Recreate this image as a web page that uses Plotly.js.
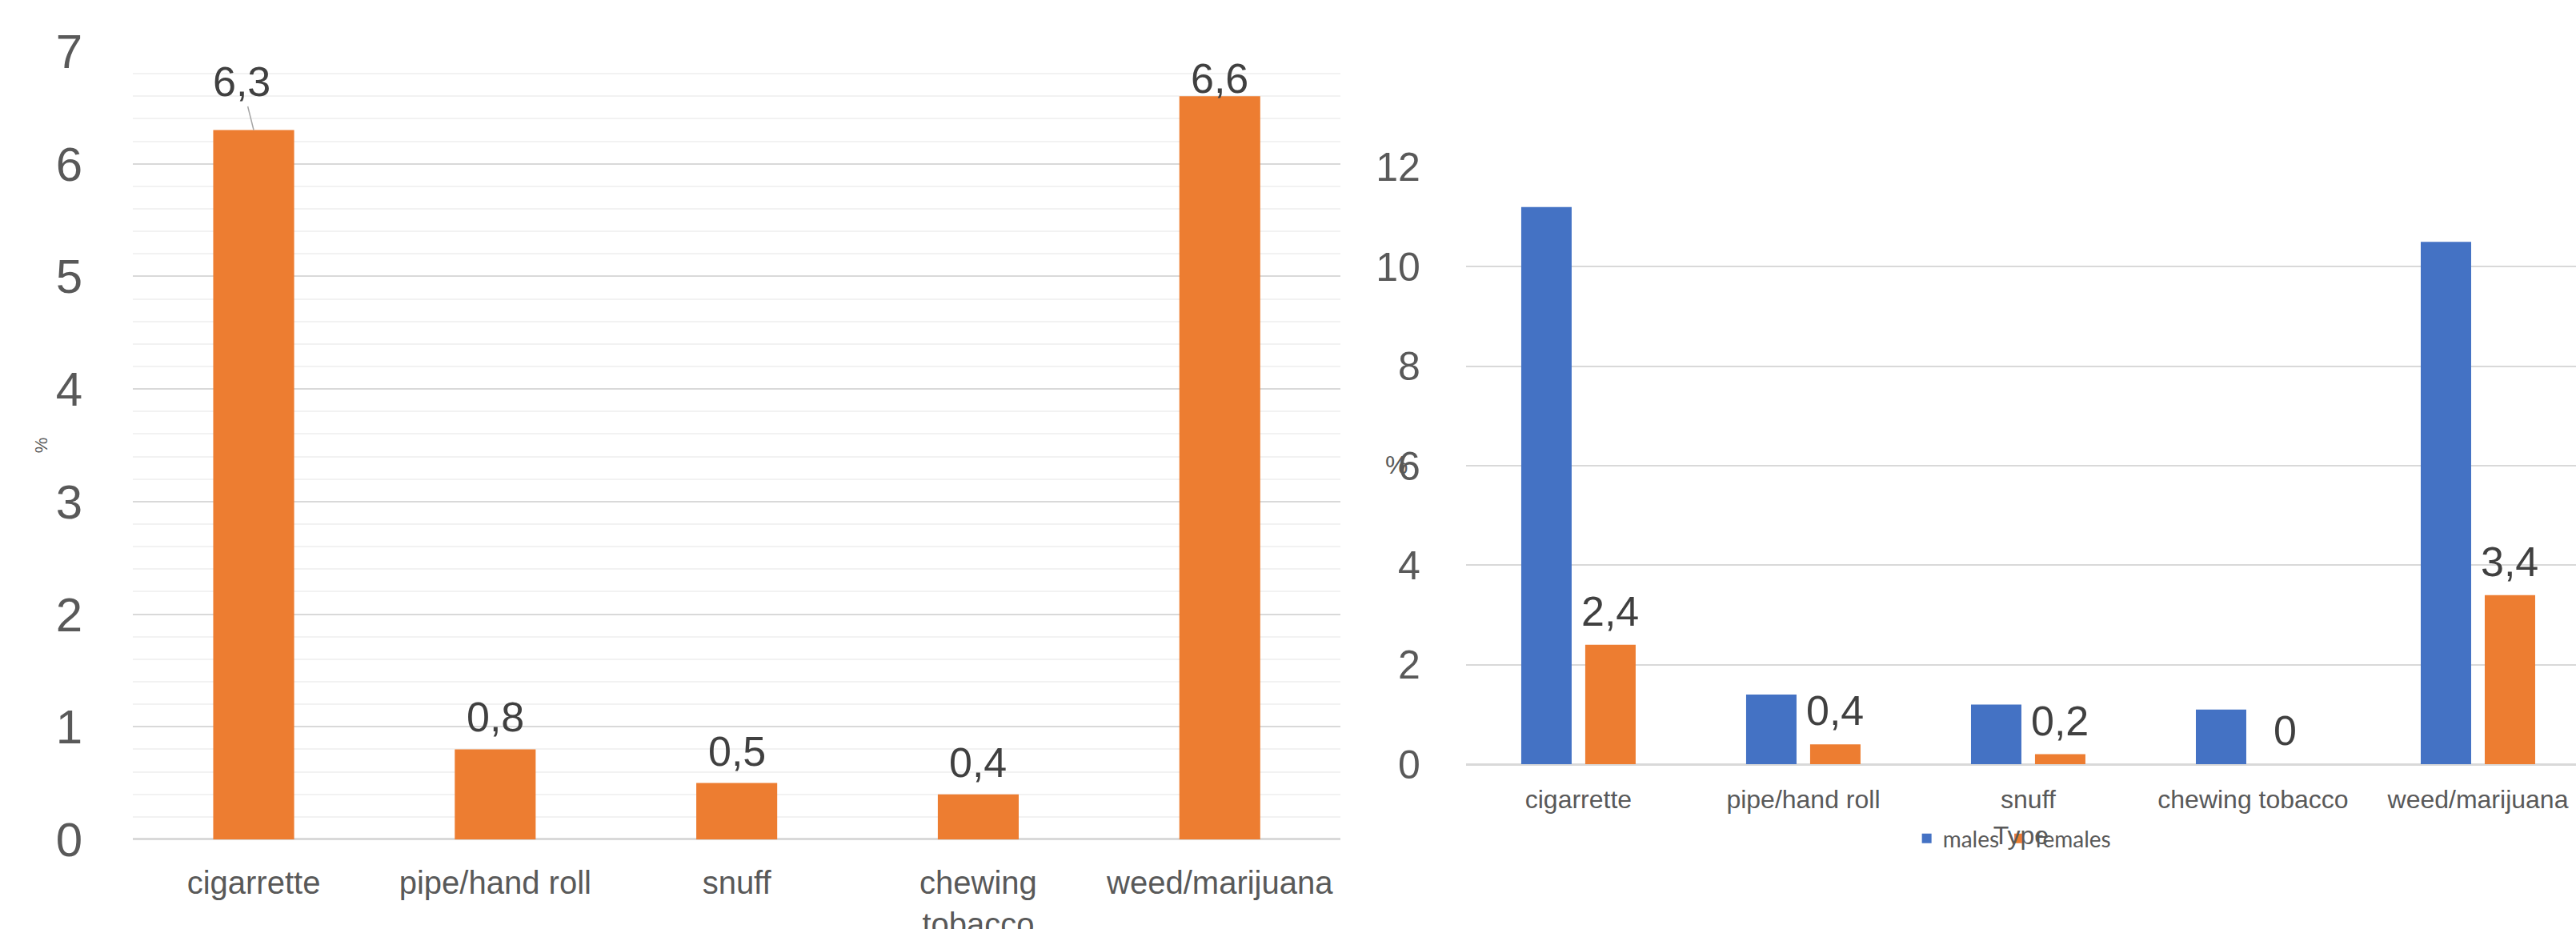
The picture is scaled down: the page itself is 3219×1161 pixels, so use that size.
<!DOCTYPE html>
<html>
<head>
<meta charset="utf-8">
<script src="https://cdn.plot.ly/plotly-3.0.1.min.js"></script>
<style>
html,body{margin:0;padding:0;background:#fff;overflow:hidden;}
#chart{width:3219px;height:1161px;}
</style>
</head>
<body>
<div id="chart"></div>
<script>
// ---- data ----
const types = ['cigarrette', 'pipe/hand roll', 'snuff', 'chewing tobacco', 'weed/marijuana'];
const overall = [6.3, 0.8, 0.5, 0.4, 6.6];
const males = [11.2, 1.4, 1.2, 1.1, 10.5];
const females = [2.4, 0.4, 0.2, 0, 3.4];
const seriesNames = ['males', 'females'];
const yTitle = '%';
const xTitle2 = 'Type';

// ---- style ----
const FONT = '"Liberation Sans", Arial, Helvetica, sans-serif';
const LEGFONT = 'Lato, "Open Sans", sans-serif';
const GREY = '#595959';
const LABEL = '#404040';
const ORANGE = '#ED7D31';
const BLUE = '#4472C4';
const fmt = v => String(v).replace('.', ',');

const leftTickText = types.map(t => t === 'chewing tobacco' ? 'chewing<br>tobacco' : t);

const traces = [
  {type: 'bar', x: types, y: overall, xaxis: 'x', yaxis: 'y',
   marker: {color: ORANGE}, width: 0.335, offset: -0.1675,
   showlegend: false, hoverinfo: 'skip'},
  {type: 'bar', name: seriesNames[0], x: types, y: males, xaxis: 'x2', yaxis: 'y2',
   marker: {color: BLUE}, width: 0.2242, offset: -0.2544, hoverinfo: 'skip'},
  {type: 'bar', name: seriesNames[1], x: types, y: females, xaxis: 'x2', yaxis: 'y2',
   marker: {color: ORANGE}, width: 0.2242, offset: 0.0302, hoverinfo: 'skip'}
];

const annotations = [];
const maxOverall = Math.max(...overall);
overall.forEach((v, i) => {
  if (i === 0) {
    annotations.push({xref: 'x', yref: 'y', x: types[i], y: v, text: fmt(v),
      showarrow: true, arrowhead: 0, arrowwidth: 1.5, arrowcolor: '#a6a6a6',
      ax: -15, ay: -60, standoff: 0,
      font: {family: FONT, size: 52, color: LABEL}});
  } else {
    annotations.push({xref: 'x', yref: 'y', x: types[i], y: v, text: fmt(v),
      showarrow: false, yanchor: 'bottom', yshift: v === maxOverall ? -9 : 9,
      font: {family: FONT, size: 52, color: LABEL}});
  }
});
females.forEach((v, i) => {
  annotations.push({xref: 'x2', yref: 'y2', x: types[i], y: v, text: fmt(v),
    showarrow: false, yanchor: 'bottom', yshift: 11, xshift: 40,
    font: {family: FONT, size: 52, color: LABEL}});
});
annotations.push({xref: 'x2 domain', yref: 'y2 domain', x: -0.0627, y: 0.501,
  text: yTitle, showarrow: false, xanchor: 'center', yanchor: 'middle',
  font: {family: FONT, size: 32, color: GREY}});

const layout = {
  width: 3219, height: 1161,
  margin: {l: 0, r: 0, t: 0, b: 0},
  paper_bgcolor: '#ffffff', plot_bgcolor: '#ffffff',
  barmode: 'overlay',
  separators: ', ',
  font: {family: FONT, color: GREY},
  showlegend: true,
  legend: {orientation: 'h', x: 0.7815, xanchor: 'center', y: 0.0973, yanchor: 'middle',
    font: {family: LEGFONT, size: 28, color: GREY}, bgcolor: 'rgba(0,0,0,0)'},
  xaxis: {domain: [0.0516, 0.5204], anchor: 'y', type: 'category', range: [-0.5, 4.5],
    tickmode: 'array', tickvals: types, ticktext: leftTickText,
    tickfont: {family: FONT, size: 40, color: GREY},
    ticks: 'outside', ticklen: 19, tickcolor: 'rgba(0,0,0,0)',
    showgrid: false, zeroline: false, showline: false, fixedrange: true},
  yaxis: {domain: [0.0965, 0.9449], anchor: 'x', range: [0, 7], dtick: 1,
    tickfont: {family: FONT, size: 60, color: GREY},
    ticks: 'outside', ticklen: 50, tickcolor: 'rgba(0,0,0,0)',
    showgrid: true, gridcolor: '#d9d9d9', gridwidth: 2,
    minor: {dtick: 0.2, showgrid: true, gridcolor: '#f2f2f2', gridwidth: 2},
    zeroline: true, zerolinecolor: '#d9d9d9', zerolinewidth: 3, showline: false,
    title: {text: yTitle, font: {family: FONT, size: 22, color: GREY}, standoff: 4},
    fixedrange: true},
  xaxis2: {domain: [0.5691, 1], anchor: 'y2', type: 'category', range: [-0.5, 4.436],
    tickfont: {family: FONT, size: 32, color: GREY},
    ticks: 'outside', ticklen: 16, tickcolor: 'rgba(0,0,0,0)',
    showgrid: false, zeroline: false, showline: false,
    title: {text: xTitle2, font: {family: FONT, size: 32, color: GREY}, standoff: 16},
    fixedrange: true},
  yaxis2: {domain: [0.1774, 0.82], anchor: 'x2', range: [0, 12], dtick: 2,
    tickfont: {family: FONT, size: 50, color: GREY},
    ticks: 'outside', ticklen: 46, tickcolor: 'rgba(0,0,0,0)',
    showgrid: true, gridcolor: '#d9d9d9', gridwidth: 2,
    zeroline: true, zerolinecolor: '#d9d9d9', zerolinewidth: 3, showline: false,
    fixedrange: true},
  annotations: annotations
};

Plotly.newPlot('chart', traces, layout, {displayModeBar: false, staticPlot: true});
</script>
</body>
</html>
